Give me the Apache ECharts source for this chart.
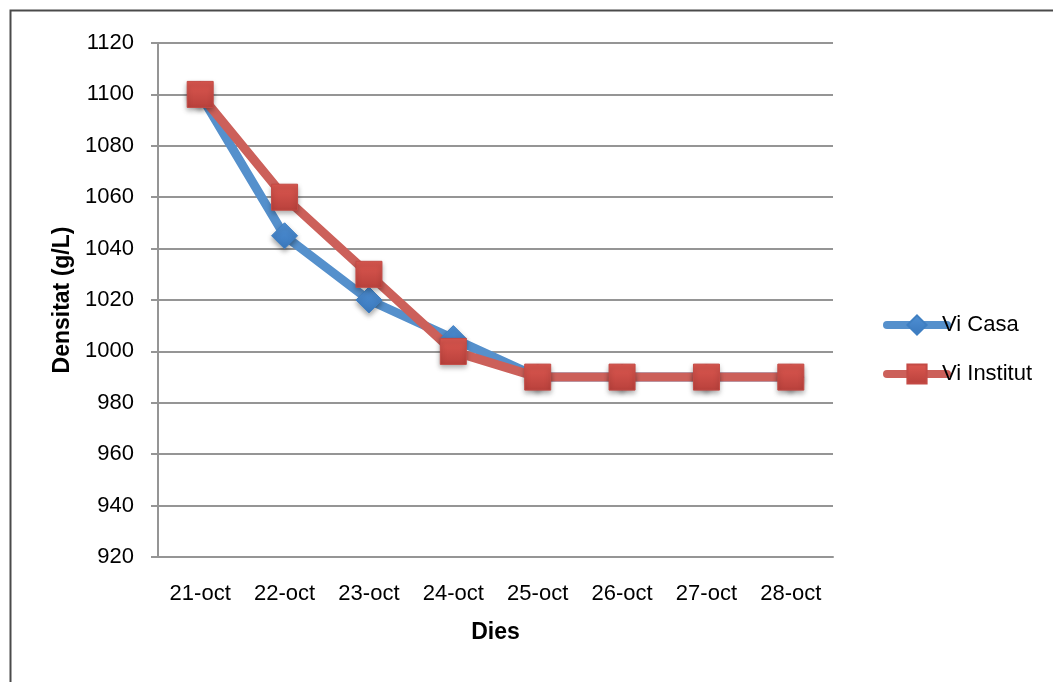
<!DOCTYPE html>
<html>
<head>
<meta charset="utf-8">
<script src="https://cdn.jsdelivr.net/npm/echarts@6/dist/echarts.min.js"></script>
<style>
html,body{margin:0;padding:0;background:#fff;}
#c{width:1053px;height:682px;}
</style>
</head>
<body>
<div id="c"></div>
<script>
const categories = ['21-oct','22-oct','23-oct','24-oct','25-oct','26-oct','27-oct','28-oct'];
const viCasa = [1100, 1045, 1020, 1005, 990, 990, 990, 990];
const viInstitut = [1100, 1060, 1030, 1000, 990, 990, 990, 990];
const seriesNames = ['Vi Casa', 'Vi Institut'];
const yTitle = 'Densitat (g/L)';
const xTitle = 'Dies';

const FONT = '"Liberation Sans", Arial, sans-serif';
const chart = echarts.init(document.getElementById('c'), null, {renderer: 'canvas'});

function grad(top, bottom) {
  return {type: 'linear', x: 0, y: 0, x2: 0, y2: 1,
    colorStops: [{offset: 0, color: top}, {offset: 1, color: bottom}]};
}

chart.setOption({
  animation: false,
  backgroundColor: '#fff',
  graphic: [{
    type: 'rect', left: 8, top: 8, z: 100,
    shape: {x: 0, y: 0, width: 1070, height: 700},
    style: {fill: 'none', stroke: '#4a4a4a', lineWidth: 2}
  }],
  grid: {left: 158, right: 220, top: 43, bottom: 125},
  legend: {
    orient: 'vertical',
    left: 878, top: 309,
    itemWidth: 60, itemHeight: 24,
    itemGap: 27,
    lineStyle: {width: 8, cap: 'round'},
    textStyle: {fontFamily: FONT, fontSize: 22, color: '#000', padding: [0,0,0,-10]},
    data: seriesNames
  },
  xAxis: {
    type: 'category',
    data: categories,
    boundaryGap: true,
    name: xTitle,
    nameLocation: 'middle',
    nameGap: 64,
    nameTextStyle: {fontFamily: FONT, fontSize: 23, fontWeight: 'bold', color: '#000'},
    axisLine: {lineStyle: {color: '#959595', width: 2}},
    axisTick: {show: false},
    axisLabel: {fontFamily: FONT, fontSize: 22, color: '#000', margin: 26, interval: 0},
    splitLine: {show: false}
  },
  yAxis: {
    type: 'value',
    min: 920, max: 1120, interval: 20,
    name: yTitle,
    nameLocation: 'middle',
    nameGap: 83,
    nameTextStyle: {fontFamily: FONT, fontSize: 23, fontWeight: 'bold', color: '#000'},
    axisLine: {show: true, lineStyle: {color: '#959595', width: 2}},
    axisTick: {show: true, length: 7, lineStyle: {color: '#959595', width: 2}},
    axisLabel: {fontFamily: FONT, fontSize: 22, color: '#000', margin: 24,
      formatter: function (v) { return String(v); }},
    splitLine: {lineStyle: {color: '#959595', width: 2}}
  },
  series: [
    {
      name: seriesNames[0], type: 'line', data: viCasa,
      symbol: 'diamond', symbolSize: 26,
      lineStyle: {color: '#5590cc', width: 9, cap: 'round', join: 'round'},
      itemStyle: {color: grad('#4f90d4', '#3a78bd'), borderColor: '#3f7fc2', borderWidth: 1,
        shadowBlur: 5, shadowOffsetY: 3, shadowColor: 'rgba(0,0,0,0.35)'},
      color: '#4a86c8'
    },
    {
      name: seriesNames[1], type: 'line', data: viInstitut,
      symbol: 'rect', symbolSize: 26,
      lineStyle: {color: '#cc605a', width: 9, cap: 'round', join: 'round'},
      itemStyle: {color: grad('#dc5850', '#b9413c'), borderColor: '#c44a45', borderWidth: 1,
        shadowBlur: 5, shadowOffsetY: 3, shadowColor: 'rgba(0,0,0,0.35)'},
      color: '#d0504a'
    }
  ]
});
</script>
</body>
</html>
